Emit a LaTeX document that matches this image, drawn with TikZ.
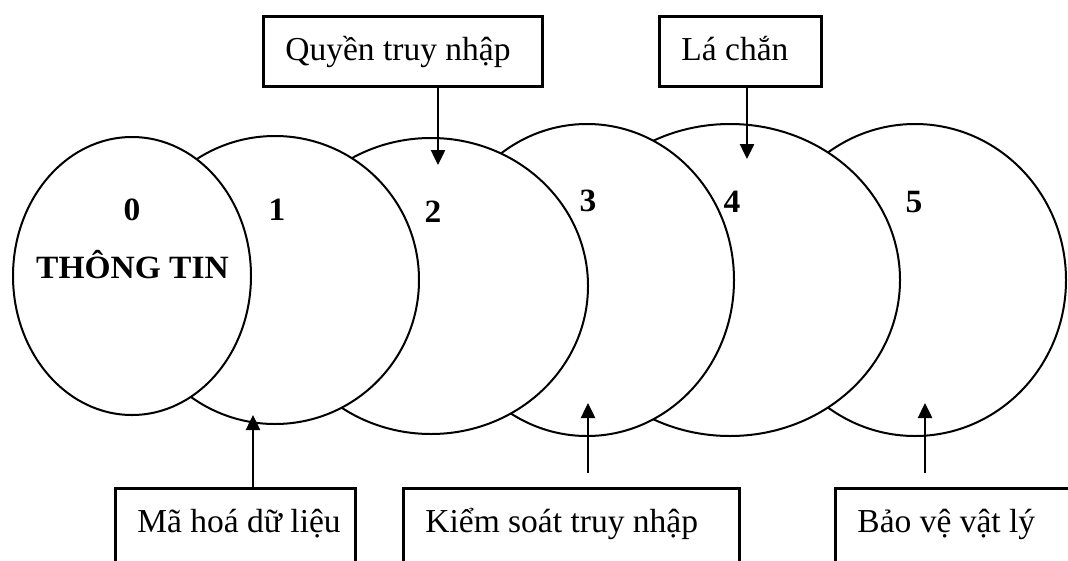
\documentclass[tikz,border=0pt]{standalone}
\usepackage{fontspec}
\setmainfont{Liberation Serif}
\newfontfamily\numfont[FakeStretch=1.03]{Liberation Serif}
\usetikzlibrary{shapes.geometric,arrows.meta}

\tikzset{
  layer/.style={ellipse, draw, fill=white, line width=2pt, inner sep=0pt},
  num/.style={font=\numfont\bfseries\fontsize{32.5}{38}\selectfont, inner sep=0pt, anchor=base},
  tagbox/.style={draw, line width=2.8pt, fill=white, anchor=north west,
    inner xsep=22pt, inner ysep=0pt, text height=44pt,
    font=\fontsize{33.5}{40}\selectfont},
  arr/.style={line width=2.5pt, -{Triangle[length=15pt,width=14pt]}}
}
% one line of label text in a field of fixed width, set flush left
\newcommand\tagline[2]{\makebox[#1][l]{#2}}

\begin{document}
\begin{tikzpicture}[x=1pt,y=-1pt]
  \useasboundingbox (0,0) rectangle (1068,560);
  \clip (0,0) rectangle (1068,560);

  % protection layers, outermost first so each inner one overlaps the next
  \node[layer, minimum width=302pt, minimum height=312pt] (e5) at (915,280) {};
  \node[layer, minimum width=340pt, minimum height=312pt] (e4) at (730,280) {};
  \node[layer, minimum width=294pt, minimum height=312pt] (e3) at (587,280) {};
  \node[layer, minimum width=314pt, minimum height=296pt] (e2) at (431,286) {};
  \node[layer, minimum width=288pt, minimum height=288pt] (e1) at (275,280) {};
  \node[layer, minimum width=238pt, minimum height=278pt] (e0) at (132,276) {};

  % layer numbers
  \node[num] (n0) at (132,220) {0};
  \node[num] (n1) at (277,220) {1};
  \node[num] (n2) at (433,222) {2};
  \node[num] (n3) at (588,211) {3};
  \node[num] (n4) at (732,212) {4};
  \node[num] (n5) at (914,212) {5};
  \node[num] (info) at (132.5,278) {THÔNG TIN};

  % labels of the protection measures
  \node[tagbox, text depth=26pt] (q) at (262,15) {\tagline{235pt}{Quyền truy nhập}};
  \node[tagbox, text depth=26pt] (l) at (658,15) {\tagline{118pt}{Lá chắn}};
  \node[tagbox, text depth=69pt] (m) at (114,487) {\tagline{196pt}{Mã hoá dữ liệu}};
  \node[tagbox, text depth=69pt] (k) at (402,487) {\tagline{292pt}{Kiểm soát truy nhập}};
  \node[tagbox, text depth=69pt] (b) at (834,487) {\tagline{222pt}{Bảo vệ vật lý}};

  % arrow tips inside the layers
  \coordinate (t1) at (253,415);
  \coordinate (t2) at (438,165);
  \coordinate (t3) at (588,403);
  \coordinate (t4) at (747,159);
  \coordinate (t5) at (925,403);

  \draw[arr] (q.south -| t2) -- (t2);
  \draw[arr] (l.south -| t4) -- (t4);
  \draw[arr] (m.north -| t1) -- (t1);
  \draw[arr, shorten <=14pt] (k.north -| t3) -- (t3);
  \draw[arr, shorten <=14pt] (b.north -| t5) -- (t5);
\end{tikzpicture}
\end{document}
